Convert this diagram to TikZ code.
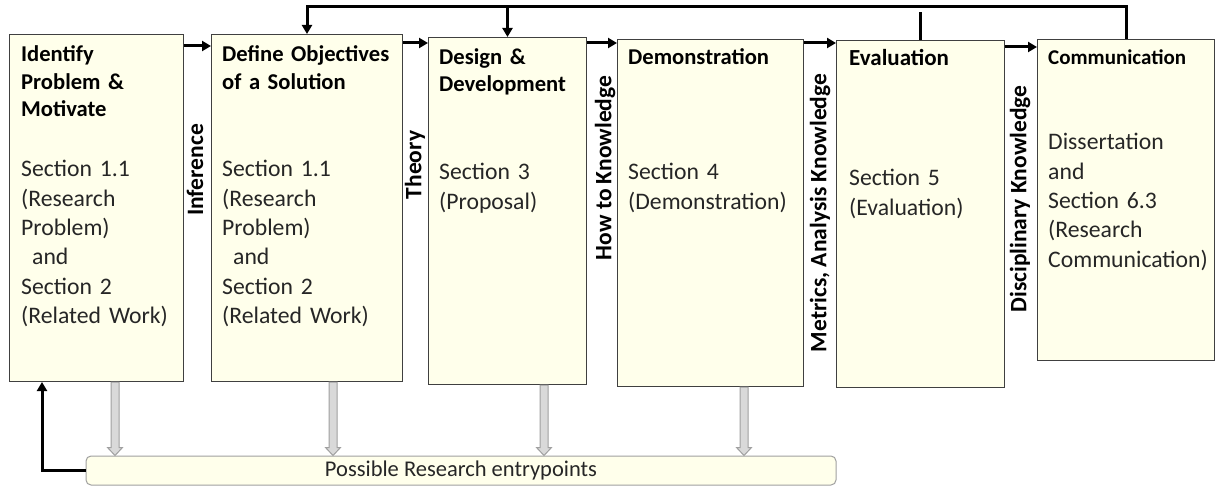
\documentclass[tikz,border=0pt]{standalone}
\usepackage{fontspec}
\setmainfont{Carlito}
\usetikzlibrary{arrows.meta,calc}

\definecolor{cream}{RGB}{255,255,235}
\definecolor{boxline}{RGB}{64,64,64}
\definecolor{entryfill}{RGB}{217,217,217}
\definecolor{entryline}{RGB}{160,160,160}
\definecolor{bodytext}{RGB}{38,38,38}

\tikzset{
  stage/.style={draw=boxline, line width=1pt, fill=cream, anchor=north west, minimum height=347, inner sep=0pt},
  stagetitle/.style={anchor=base west, inner sep=0pt, text width=180pt, align=left, font=\fontsize{22.6}{27.3}\selectfont\bfseries},
  stagebody/.style={anchor=base west, inner sep=0pt, text width=180pt, align=left, text=bodytext, font=\fontsize{23.7}{29.3}\selectfont},
  knowledge/.style={rotate=90, inner sep=0pt, font=\fontsize{23.5}{28}\selectfont\bfseries},
  flow/.style={line width=3pt, -{Triangle[length=9pt,width=10pt]}},
  rail/.style={line width=3pt},
  entry/.style={draw=entryline, line width=1pt, fill=entryfill}
}

% hollow grey arrow from a stage down to the entry bar
\newcommand\entryarrow[2]{%
  \path[entry] let \p1=(#1.south -| #2,0), \p2=(bar.north -| #2,0) in
    (\x1-4pt,\y1) -- (\x1-4pt,\y2+8pt) -- (\x1-7.5pt,\y2+8pt) -- (\x1,\y2)
    -- (\x1+7.5pt,\y2+8pt) -- (\x1+4pt,\y2+8pt) -- (\x1+4pt,\y1) -- cycle;}

\begin{document}
\begin{tikzpicture}[x=1pt,y=-1pt]
    \useasboundingbox (0,0) rectangle (1215,486);

    \node[stage, minimum width=174] (b1) at (9,34) {};
    \node[stage, minimum width=191] (b2) at (211,34) {};
    \node[stage, minimum width=158] (b3) at (428,37) {};
    \node[stage, minimum width=186] (b4) at (617,39) {};
    \node[stage, minimum width=168] (b5) at (836,40) {};
    \node[stage, minimum width=177, minimum height=321] (b6) at (1037,39) {};

    \node[stagetitle] (t1) at ([shift={(12,28)}]b1.north west) {Identify\\Problem \&\\Motivate};
    \node[stagebody] (s1) at ([shift={(12,143)}]b1.north west) {Section 1.1\\(Research\\Problem)\\\hspace*{11pt}and\\Section 2\\(Related Work)};
    \node[stagetitle] (t2) at ([shift={(11,28)}]b2.north west) {Define Objectives\\of a Solution};
    \node[stagebody] (s2) at ([shift={(11,143)}]b2.north west) {Section 1.1\\(Research\\Problem)\\\hspace*{11pt}and\\Section 2\\(Related Work)};
    \node[stagetitle] (t3) at ([shift={(11,27.5)}]b3.north west) {Design \&\\Development};
    \node[stagebody] (s3) at ([shift={(11,143)}]b3.north west) {Section 3\\(Proposal)};
    \node[stagetitle] (t4) at ([shift={(11,25.5)}]b4.north west) {Demonstration};
    \node[stagebody] (s4) at ([shift={(11,141)}]b4.north west) {Section 4\\(Demonstration)};
    \node[stagetitle, font=\fontsize{23}{28}\selectfont\bfseries] (t5) at ([shift={(13,26)}]b5.north west) {Evaluation};
    \node[stagebody] (s5) at ([shift={(13,146)}]b5.north west) {Section 5\\(Evaluation)};
    \node[stagetitle, font=\fontsize{21}{26}\selectfont\bfseries] (t6) at ([shift={(11,26)}]b6.north west) {Communication};
    \node[stagebody] (s6) at ([shift={(11,111)}]b6.north west) {Dissertation\\and\\Section 6.3\\(Research\\Communication)};

    \node[knowledge] (inference) at (195,170) {Inference};
    \node[knowledge] (theory) at (415,165) {Theory};
    \node[knowledge] (howto) at (605,168) {How to Knowledge};
    \node[knowledge] (metrics) at (820,213) {Metrics, Analysis Knowledge};
    \node[knowledge] (disciplinary) at (1020,199) {Disciplinary Knowledge};

    \foreach \a/\b/\ya in {b1/b2/46, b2/b3/43, b3/b4/43, b4/b5/43, b5/b6/47}
        \draw[flow] (\a.east |- 0,\ya) -- (\b.west |- 0,\ya);

    \coordinate (rail) at (0,7);
    \draw[flow] (b6.north) -- (b6.north |- rail) -- (b2.north |- rail) -- (b2.north);
    \draw[flow] (b3.north |- rail) -- (b3.north);
    \draw[rail] (b5.north) -- (b5.north |- 0,12);

    \node[draw=entryline, line width=1pt, fill=cream, rounded corners=5pt, minimum width=750, minimum height=29,
        inner sep=0pt, text=bodytext, font=\fontsize{22.5}{27}\selectfont] (bar) at (461,470.5) {Possible Research entrypoints};
    \draw[flow] (bar.west) -| ([xshift=33pt]b1.south west);

    \foreach \b/\xa in {b1/115, b2/333, b3/544, b4/744}
        {\entryarrow{\b}{\xa}}
\end{tikzpicture}
\end{document}
